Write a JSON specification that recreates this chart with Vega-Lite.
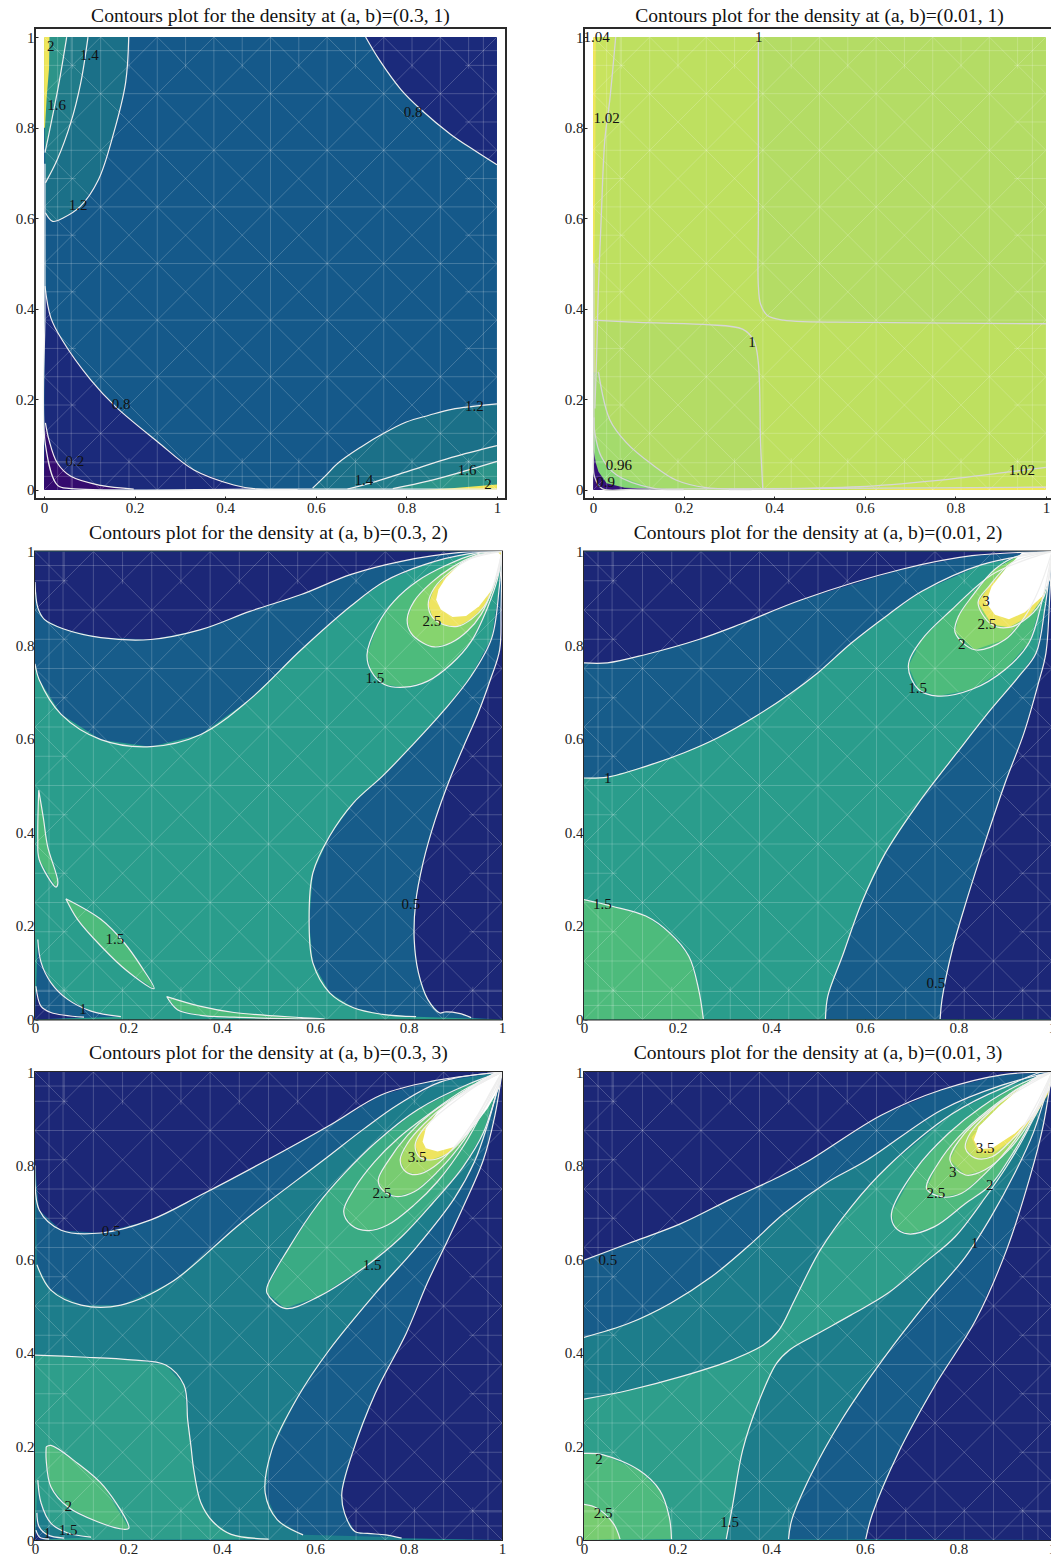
{"$schema":"https://vega.github.io/schema/vega-lite/v6.json","padding":{"left":14,"top":5,"right":0,"bottom":0},"bounds":"flush","columns":2,"align":"each","spacing":{"row":52.5,"column":78},"background":"white","resolve":{"scale":{"fill":"independent"}},
"config":{"view":{"stroke":"#2a2a2a","strokeWidth":2,"fill":"white"},"title":{"font":"Liberation Serif","fontSize":19.6,"fontWeight":"normal","color":"#111","offset":1},"axis":{"grid":false,"domain":false,"title":null,"labelFont":"Liberation Serif","labelFontSize":15,"labelColor":"#222","tickColor":"#222","tickSize":-3,"labelPadding":4,"format":"~g","labelFlush":false,"labelOverlap":false,"labelBound":false}},
"datasets":{
"mesh":[{"x":0.125,"y":0,"x2":0.125,"y2":1},{"x":0.25,"y":0,"x2":0.25,"y2":1},{"x":0.375,"y":0,"x2":0.375,"y2":1},{"x":0.5,"y":0,"x2":0.5,"y2":1},{"x":0.625,"y":0,"x2":0.625,"y2":1},{"x":0.75,"y":0,"x2":0.75,"y2":1},{"x":0.875,"y":0,"x2":0.875,"y2":1},{"x":0,"y":0.125,"x2":1,"y2":0.125},{"x":0,"y":0.25,"x2":1,"y2":0.25},{"x":0,"y":0.375,"x2":1,"y2":0.375},{"x":0,"y":0.5,"x2":1,"y2":0.5},{"x":0,"y":0.625,"x2":1,"y2":0.625},{"x":0,"y":0.75,"x2":1,"y2":0.75},{"x":0,"y":0.875,"x2":1,"y2":0.875},{"x":0,"y":0.25,"x2":0.25,"y2":0},{"x":0,"y":0.5,"x2":0.5,"y2":0},{"x":0,"y":0.75,"x2":0.75,"y2":0},{"x":0,"y":1,"x2":1,"y2":0},{"x":0.25,"y":1,"x2":1,"y2":0.25},{"x":0.5,"y":1,"x2":1,"y2":0.5},{"x":0.75,"y":1,"x2":1,"y2":0.75},{"x":0,"y":0.75,"x2":0.25,"y2":1},{"x":0,"y":0.5,"x2":0.5,"y2":1},{"x":0,"y":0.25,"x2":0.75,"y2":1},{"x":0,"y":0,"x2":1,"y2":1},{"x":0.25,"y":0,"x2":1,"y2":0.75},{"x":0.5,"y":0,"x2":1,"y2":0.5},{"x":0.75,"y":0,"x2":1,"y2":0.25},{"x":0.03,"y":0,"x2":0.03,"y2":1},{"x":0.06,"y":0,"x2":0.06,"y2":1},{"x":0,"y":0.03,"x2":1,"y2":0.03},{"x":0,"y":0.06,"x2":1,"y2":0.06},{"x":0.97,"y":0,"x2":0.97,"y2":1},{"x":0,"y":0.97,"x2":1,"y2":0.97},
{"x":0,"y":0.125,"x2":0.125,"y2":0},{"x":0,"y":0.375,"x2":0.375,"y2":0},{"x":0,"y":0.625,"x2":0.625,"y2":0},{"x":0,"y":0.875,"x2":0.875,"y2":0},{"x":0.125,"y":1,"x2":1,"y2":0.125},{"x":0.375,"y":1,"x2":1,"y2":0.375},{"x":0.625,"y":1,"x2":1,"y2":0.625},{"x":0.875,"y":1,"x2":1,"y2":0.875},{"x":0,"y":0.875,"x2":0.125,"y2":1},{"x":0,"y":0.625,"x2":0.375,"y2":1},{"x":0,"y":0.375,"x2":0.625,"y2":1},{"x":0,"y":0.125,"x2":0.875,"y2":1},{"x":0.125,"y":0,"x2":1,"y2":0.875},{"x":0.375,"y":0,"x2":1,"y2":0.625},{"x":0.625,"y":0,"x2":1,"y2":0.375},{"x":0.875,"y":0,"x2":1,"y2":0.125},
{"x":0,"y":0.0625,"x2":0.07,"y2":0.0625},{"x":0,"y":0.1875,"x2":0.07,"y2":0.1875},{"x":0,"y":0.3125,"x2":0.07,"y2":0.3125},{"x":0,"y":0.4375,"x2":0.07,"y2":0.4375},{"x":0,"y":0.5625,"x2":0.07,"y2":0.5625},{"x":0,"y":0.6875,"x2":0.07,"y2":0.6875},{"x":0,"y":0.8125,"x2":0.07,"y2":0.8125},{"x":0,"y":0.9375,"x2":0.07,"y2":0.9375},{"x":0.93,"y":0.0625,"x2":1,"y2":0.0625},{"x":0.93,"y":0.1875,"x2":1,"y2":0.1875},{"x":0.93,"y":0.3125,"x2":1,"y2":0.3125},{"x":0.93,"y":0.4375,"x2":1,"y2":0.4375},{"x":0.93,"y":0.5625,"x2":1,"y2":0.5625},{"x":0.93,"y":0.6875,"x2":1,"y2":0.6875},{"x":0.93,"y":0.8125,"x2":1,"y2":0.8125},{"x":0.93,"y":0.9375,"x2":1,"y2":0.9375},
{"x":0.0625,"y":0,"x2":0.0625,"y2":0.07},{"x":0.1875,"y":0,"x2":0.1875,"y2":0.07},{"x":0.3125,"y":0,"x2":0.3125,"y2":0.07},{"x":0.4375,"y":0,"x2":0.4375,"y2":0.07},{"x":0.5625,"y":0,"x2":0.5625,"y2":0.07},{"x":0.6875,"y":0,"x2":0.6875,"y2":0.07},{"x":0.8125,"y":0,"x2":0.8125,"y2":0.07},{"x":0.9375,"y":0,"x2":0.9375,"y2":0.07},{"x":0.0625,"y":0.93,"x2":0.0625,"y2":1},{"x":0.1875,"y":0.93,"x2":0.1875,"y2":1},{"x":0.3125,"y":0.93,"x2":0.3125,"y2":1},{"x":0.4375,"y":0.93,"x2":0.4375,"y2":1},{"x":0.5625,"y":0.93,"x2":0.5625,"y2":1},{"x":0.6875,"y":0.93,"x2":0.6875,"y2":1},{"x":0.8125,"y":0.93,"x2":0.8125,"y2":1},{"x":0.9375,"y":0.93,"x2":0.9375,"y2":1}],
"A":[
{"id":1,"lv":"m","x":0,"y":0,"edge":1},{"id":1,"lv":"m","x":1,"y":0,"edge":1},{"id":1,"lv":"m","x":1,"y":1,"edge":1},{"id":1,"lv":"m","x":0,"y":1,"edge":1},
{"id":2,"lv":"b","x":0.002,"y":0.45},{"id":2,"lv":"b","x":0.015,"y":0.38},{"id":2,"lv":"b","x":0.04,"y":0.331},{"id":2,"lv":"b","x":0.103,"y":0.243},{"id":2,"lv":"b","x":0.158,"y":0.184},{"id":2,"lv":"b","x":0.25,"y":0.107},{"id":2,"lv":"b","x":0.331,"y":0.044},{"id":2,"lv":"b","x":0.419,"y":0.011},{"id":2,"lv":"b","x":0.47,"y":0.002},{"id":2,"lv":"b","x":0.56,"y":0.001},{"id":2,"lv":"b","x":0,"y":0,"edge":1},
{"id":3,"lv":"a","x":0.003,"y":0.148},{"id":3,"lv":"a","x":0.011,"y":0.11},{"id":3,"lv":"a","x":0.029,"y":0.06},{"id":3,"lv":"a","x":0.059,"y":0.03},{"id":3,"lv":"a","x":0.125,"y":0.01},{"id":3,"lv":"a","x":0.198,"y":0.002},{"id":3,"lv":"a","x":0,"y":0,"edge":1},
{"id":4,"lv":"b","x":0.71,"y":1},{"id":4,"lv":"b","x":0.74,"y":0.95},{"id":4,"lv":"b","x":0.788,"y":0.884},{"id":4,"lv":"b","x":0.832,"y":0.84},{"id":4,"lv":"b","x":0.898,"y":0.785},{"id":4,"lv":"b","x":0.95,"y":0.75},{"id":4,"lv":"b","x":1,"y":0.718},{"id":4,"lv":"b","x":1,"y":1,"edge":1},
{"id":5,"lv":"t1","x":0.187,"y":1},{"id":5,"lv":"t1","x":0.18,"y":0.899},{"id":5,"lv":"t1","x":0.154,"y":0.789},{"id":5,"lv":"t1","x":0.12,"y":0.685},{"id":5,"lv":"t1","x":0.08,"y":0.626},{"id":5,"lv":"t1","x":0.043,"y":0.601},{"id":5,"lv":"t1","x":0.019,"y":0.593},{"id":5,"lv":"t1","x":0.003,"y":0.612},{"id":5,"lv":"t1","x":0,"y":1,"edge":1},
{"id":6,"lv":"t2","x":0.097,"y":1},{"id":6,"lv":"t2","x":0.081,"y":0.899},{"id":6,"lv":"t2","x":0.059,"y":0.811},{"id":6,"lv":"t2","x":0.029,"y":0.729},{"id":6,"lv":"t2","x":0.003,"y":0.678},{"id":6,"lv":"t2","x":0,"y":1,"edge":1},
{"id":7,"lv":"t3","x":0.05,"y":1},{"id":7,"lv":"t3","x":0.033,"y":0.899},{"id":7,"lv":"t3","x":0.014,"y":0.802},{"id":7,"lv":"t3","x":0.002,"y":0.745},{"id":7,"lv":"t3","x":0,"y":1,"edge":1},
{"id":8,"lv":"y","x":0.012,"y":1,"edge":1},{"id":8,"lv":"y","x":0.011,"y":0.93,"edge":1},{"id":8,"lv":"y","x":0.006,"y":0.87,"edge":1},{"id":8,"lv":"y","x":0.002,"y":0.8,"edge":1},{"id":8,"lv":"y","x":0,"y":0.8,"edge":1},{"id":8,"lv":"y","x":0,"y":1,"edge":1},
{"id":9,"lv":"t1","x":0.593,"y":0.004},{"id":9,"lv":"t1","x":0.62,"y":0.03},{"id":9,"lv":"t1","x":0.65,"y":0.06},{"id":9,"lv":"t1","x":0.7,"y":0.095},{"id":9,"lv":"t1","x":0.75,"y":0.125},{"id":9,"lv":"t1","x":0.8,"y":0.15},{"id":9,"lv":"t1","x":0.85,"y":0.165},{"id":9,"lv":"t1","x":0.9,"y":0.178},{"id":9,"lv":"t1","x":1,"y":0.19},{"id":9,"lv":"t1","x":1,"y":0,"edge":1},{"id":9,"lv":"t1","x":0.59,"y":0,"edge":1},
{"id":10,"lv":"t2","x":0.67,"y":0.002},{"id":10,"lv":"t2","x":0.72,"y":0.015},{"id":10,"lv":"t2","x":0.8,"y":0.04},{"id":10,"lv":"t2","x":0.9,"y":0.072},{"id":10,"lv":"t2","x":1,"y":0.098},{"id":10,"lv":"t2","x":1,"y":0,"edge":1},
{"id":11,"lv":"t3","x":0.77,"y":0.003},{"id":11,"lv":"t3","x":0.85,"y":0.02},{"id":11,"lv":"t3","x":0.93,"y":0.042},{"id":11,"lv":"t3","x":1,"y":0.063},{"id":11,"lv":"t3","x":1,"y":0,"edge":1},
{"id":12,"lv":"y","x":0.83,"y":0,"edge":1},{"id":12,"lv":"y","x":0.9,"y":0.004,"edge":1},{"id":12,"lv":"y","x":1,"y":0.012,"edge":1},{"id":12,"lv":"y","x":1,"y":0,"edge":1},
{"id":13,"lv":"n","x":0.002,"y":0.72},{"id":13,"lv":"n","x":0.002,"y":0.4},{"id":13,"lv":"n","x":0.003,"y":0.1},{"id":13,"lv":"n","x":0.03,"y":0.01},{"id":13,"lv":"n","x":0.06,"y":0.003},{"id":13,"lv":"n","x":0.5,"y":0.002},{"id":13,"lv":"n","x":1,"y":0.002}],
"Atext":[{"x":0.015,"y":0.98,"t":"2"},{"x":0.1,"y":0.96,"t":"1.4"},{"x":0.028,"y":0.85,"t":"1.6"},{"x":0.075,"y":0.63,"t":"1.2"},{"x":0.815,"y":0.835,"t":"0.8"},{"x":0.17,"y":0.19,"t":"0.8"},{"x":0.068,"y":0.065,"t":"0.2"},{"x":0.95,"y":0.185,"t":"1.2"},{"x":0.706,"y":0.022,"t":"1.4"},{"x":0.934,"y":0.044,"t":"1.6"},{"x":0.98,"y":0.013,"t":"2"}],
"B":[
{"id":1,"lv":"e","x":0,"y":0,"edge":1},{"id":1,"lv":"e","x":1,"y":0,"edge":1},{"id":1,"lv":"e","x":1,"y":1,"edge":1},{"id":1,"lv":"e","x":0,"y":1,"edge":1},
{"id":2,"lv":"d","x":0.365,"y":1},{"id":2,"lv":"d","x":0.365,"y":0.8},{"id":2,"lv":"d","x":0.365,"y":0.6},{"id":2,"lv":"d","x":0.365,"y":0.45},{"id":2,"lv":"d","x":0.37,"y":0.41},{"id":2,"lv":"d","x":0.385,"y":0.385},{"id":2,"lv":"d","x":0.42,"y":0.375},{"id":2,"lv":"d","x":0.6,"y":0.37},{"id":2,"lv":"d","x":1,"y":0.367},{"id":2,"lv":"d","x":1,"y":1,"edge":1},
{"id":3,"lv":"d","x":0,"y":0.375},{"id":3,"lv":"d","x":0.1,"y":0.37},{"id":3,"lv":"d","x":0.25,"y":0.365},{"id":3,"lv":"d","x":0.33,"y":0.355},{"id":3,"lv":"d","x":0.355,"y":0.33},{"id":3,"lv":"d","x":0.365,"y":0.28},{"id":3,"lv":"d","x":0.37,"y":0.1},{"id":3,"lv":"d","x":0.375,"y":0},{"id":3,"lv":"d","x":0,"y":0,"edge":1},
{"id":4,"lv":"f","x":0.05,"y":1},{"id":4,"lv":"f","x":0.037,"y":0.862},{"id":4,"lv":"f","x":0.026,"y":0.773},{"id":4,"lv":"f","x":0.018,"y":0.6},{"id":4,"lv":"f","x":0.012,"y":0.45},{"id":4,"lv":"f","x":0.008,"y":0.3},{"id":4,"lv":"f","x":0.004,"y":0.18},{"id":4,"lv":"f","x":0,"y":0.18,"edge":1},{"id":4,"lv":"f","x":0,"y":1,"edge":1},
{"id":5,"lv":"y","x":0.006,"y":1,"edge":1},{"id":5,"lv":"y","x":0.005,"y":0.7,"edge":1},{"id":5,"lv":"y","x":0.003,"y":0.5,"edge":1},{"id":5,"lv":"y","x":0,"y":0.5,"edge":1},{"id":5,"lv":"y","x":0,"y":1,"edge":1},
{"id":6,"lv":"f","x":0.3,"y":0.001},{"id":6,"lv":"f","x":0.589,"y":0.007},{"id":6,"lv":"f","x":0.75,"y":0.02},{"id":6,"lv":"f","x":0.92,"y":0.04},{"id":6,"lv":"f","x":1,"y":0.05},{"id":6,"lv":"f","x":1,"y":0,"edge":1},
{"id":7,"lv":"y","x":0.55,"y":0,"edge":1},{"id":7,"lv":"y","x":0.8,"y":0.004,"edge":1},{"id":7,"lv":"y","x":1,"y":0.008,"edge":1},{"id":7,"lv":"y","x":1,"y":0,"edge":1},
{"id":8,"lv":"c","x":0.012,"y":0.26},{"id":8,"lv":"c","x":0.037,"y":0.155},{"id":8,"lv":"c","x":0.074,"y":0.104},{"id":8,"lv":"c","x":0.132,"y":0.055},{"id":8,"lv":"c","x":0.183,"y":0.022},{"id":8,"lv":"c","x":0.25,"y":0.005},{"id":8,"lv":"c","x":0.35,"y":0.001},{"id":8,"lv":"c","x":0,"y":0,"edge":1},{"id":8,"lv":"c","x":0,"y":0.26,"edge":1},
{"id":9,"lv":"b","x":0.002,"y":0.16},{"id":9,"lv":"b","x":0.004,"y":0.126},{"id":9,"lv":"b","x":0.018,"y":0.074},{"id":9,"lv":"b","x":0.052,"y":0.033},{"id":9,"lv":"b","x":0.132,"y":0.004},{"id":9,"lv":"b","x":0.2,"y":0.001},{"id":9,"lv":"b","x":0,"y":0,"edge":1},
{"id":10,"lv":"a","x":0.001,"y":0.09,"edge":1},{"id":10,"lv":"a","x":0.006,"y":0.06,"edge":1},{"id":10,"lv":"a","x":0.012,"y":0.04,"edge":1},{"id":10,"lv":"a","x":0.03,"y":0.015,"edge":1},{"id":10,"lv":"a","x":0.07,"y":0.005,"edge":1},{"id":10,"lv":"a","x":0.2,"y":0.001,"edge":1},{"id":10,"lv":"a","x":0,"y":0,"edge":1},
{"id":11,"lv":"n","x":0.002,"y":0.5},{"id":11,"lv":"n","x":0.002,"y":0.1},{"id":11,"lv":"n","x":0.003,"y":0.03},{"id":11,"lv":"n","x":0.02,"y":0.003},{"id":11,"lv":"n","x":0.1,"y":0.002},{"id":11,"lv":"n","x":1,"y":0.006}],
"Btext":[{"x":0.008,"y":1,"t":"1.04"},{"x":0.366,"y":1,"t":"1"},{"x":0.03,"y":0.822,"t":"1.02"},{"x":0.351,"y":0.327,"t":"1"},{"x":0.057,"y":0.055,"t":"0.96"},{"x":0.028,"y":0.018,"t":"0.9"},{"x":0.947,"y":0.044,"t":"1.02"}],
"C":[
{"id":1,"lv":"t","x":0,"y":0,"edge":1},{"id":1,"lv":"t","x":1,"y":0,"edge":1},{"id":1,"lv":"t","x":1,"y":1,"edge":1},{"id":1,"lv":"t","x":0,"y":1,"edge":1},
{"id":2,"lv":"m","x":0,"y":0.76},{"id":2,"lv":"m","x":0.009,"y":0.726},{"id":2,"lv":"m","x":0.056,"y":0.652},{"id":2,"lv":"m","x":0.141,"y":0.598},{"id":2,"lv":"m","x":0.248,"y":0.583},{"id":2,"lv":"m","x":0.355,"y":0.609},{"id":2,"lv":"m","x":0.46,"y":0.684},{"id":2,"lv":"m","x":0.57,"y":0.79},{"id":2,"lv":"m","x":0.677,"y":0.884},{"id":2,"lv":"m","x":0.748,"y":0.936},{"id":2,"lv":"m","x":0.834,"y":0.972},{"id":2,"lv":"m","x":0.927,"y":0.995},{"id":2,"lv":"m","x":1,"y":1},{"id":2,"lv":"m","x":0,"y":1,"edge":1},
{"id":3,"lv":"b","x":0,"y":0.935},{"id":3,"lv":"b","x":0.006,"y":0.88},{"id":3,"lv":"b","x":0.02,"y":0.855},{"id":3,"lv":"b","x":0.06,"y":0.835},{"id":3,"lv":"b","x":0.141,"y":0.816},{"id":3,"lv":"b","x":0.248,"y":0.812},{"id":3,"lv":"b","x":0.355,"y":0.833},{"id":3,"lv":"b","x":0.46,"y":0.872},{"id":3,"lv":"b","x":0.57,"y":0.908},{"id":3,"lv":"b","x":0.677,"y":0.951},{"id":3,"lv":"b","x":0.784,"y":0.979},{"id":3,"lv":"b","x":0.912,"y":0.998},{"id":3,"lv":"b","x":1,"y":1},{"id":3,"lv":"b","x":0,"y":1,"edge":1},
{"id":4,"lv":"m","x":1,"y":1},{"id":4,"lv":"m","x":0.994,"y":0.922},{"id":4,"lv":"m","x":0.978,"y":0.815},{"id":4,"lv":"m","x":0.934,"y":0.734},{"id":4,"lv":"m","x":0.877,"y":0.662},{"id":4,"lv":"m","x":0.806,"y":0.584},{"id":4,"lv":"m","x":0.744,"y":0.52},{"id":4,"lv":"m","x":0.682,"y":0.463},{"id":4,"lv":"m","x":0.631,"y":0.392},{"id":4,"lv":"m","x":0.595,"y":0.313},{"id":4,"lv":"m","x":0.587,"y":0.207},{"id":4,"lv":"m","x":0.595,"y":0.121},{"id":4,"lv":"m","x":0.631,"y":0.057},{"id":4,"lv":"m","x":0.682,"y":0.025},{"id":4,"lv":"m","x":0.744,"y":0.011},{"id":4,"lv":"m","x":0.816,"y":0.006},{"id":4,"lv":"m","x":1,"y":0,"edge":1},
{"id":5,"lv":"b","x":1,"y":1},{"id":5,"lv":"b","x":0.998,"y":0.88},{"id":5,"lv":"b","x":0.995,"y":0.79},{"id":5,"lv":"b","x":0.975,"y":0.726},{"id":5,"lv":"b","x":0.949,"y":0.655},{"id":5,"lv":"b","x":0.918,"y":0.584},{"id":5,"lv":"b","x":0.888,"y":0.513},{"id":5,"lv":"b","x":0.857,"y":0.427},{"id":5,"lv":"b","x":0.831,"y":0.335},{"id":5,"lv":"b","x":0.815,"y":0.249},{"id":5,"lv":"b","x":0.812,"y":0.171},{"id":5,"lv":"b","x":0.821,"y":0.1},{"id":5,"lv":"b","x":0.841,"y":0.043},{"id":5,"lv":"b","x":0.867,"y":0.014},{"id":5,"lv":"b","x":0.877,"y":0.016},{"id":5,"lv":"b","x":0.908,"y":0.013},{"id":5,"lv":"b","x":0.934,"y":0.004},{"id":5,"lv":"b","x":1,"y":0,"edge":1},
{"id":6,"lv":"g","x":1,"y":1},{"id":6,"lv":"g","x":0.941,"y":0.994},{"id":6,"lv":"g","x":0.877,"y":0.969},{"id":6,"lv":"g","x":0.819,"y":0.937},{"id":6,"lv":"g","x":0.769,"y":0.894},{"id":6,"lv":"g","x":0.734,"y":0.844},{"id":6,"lv":"g","x":0.711,"y":0.78},{"id":6,"lv":"g","x":0.72,"y":0.744},{"id":6,"lv":"g","x":0.748,"y":0.716},{"id":6,"lv":"g","x":0.791,"y":0.71},{"id":6,"lv":"g","x":0.841,"y":0.723},{"id":6,"lv":"g","x":0.891,"y":0.759},{"id":6,"lv":"g","x":0.934,"y":0.808},{"id":6,"lv":"g","x":0.969,"y":0.88},{"id":6,"lv":"g","x":0.991,"y":0.944},{"id":6,"lv":"g","x":1,"y":1},
{"id":7,"lv":"l","x":1,"y":1},{"id":7,"lv":"l","x":0.941,"y":0.99},{"id":7,"lv":"l","x":0.891,"y":0.965},{"id":7,"lv":"l","x":0.848,"y":0.933},{"id":7,"lv":"l","x":0.812,"y":0.894},{"id":7,"lv":"l","x":0.797,"y":0.855},{"id":7,"lv":"l","x":0.805,"y":0.826},{"id":7,"lv":"l","x":0.83,"y":0.805},{"id":7,"lv":"l","x":0.855,"y":0.796},{"id":7,"lv":"l","x":0.891,"y":0.805},{"id":7,"lv":"l","x":0.926,"y":0.83},{"id":7,"lv":"l","x":0.955,"y":0.865},{"id":7,"lv":"l","x":0.98,"y":0.922},{"id":7,"lv":"l","x":1,"y":1},
{"id":8,"lv":"y","x":1,"y":1},{"id":8,"lv":"y","x":0.934,"y":0.985},{"id":8,"lv":"y","x":0.891,"y":0.958},{"id":8,"lv":"y","x":0.855,"y":0.922},{"id":8,"lv":"y","x":0.842,"y":0.887},{"id":8,"lv":"y","x":0.852,"y":0.858},{"id":8,"lv":"y","x":0.877,"y":0.843},{"id":8,"lv":"y","x":0.905,"y":0.84},{"id":8,"lv":"y","x":0.934,"y":0.855},{"id":8,"lv":"y","x":0.962,"y":0.883},{"id":8,"lv":"y","x":0.984,"y":0.93},{"id":8,"lv":"y","x":1,"y":1},
{"id":9,"lv":"w","x":0.859,"y":0.897,"edge":1},{"id":9,"lv":"w","x":0.869,"y":0.876,"edge":1},{"id":9,"lv":"w","x":0.894,"y":0.86,"edge":1},{"id":9,"lv":"w","x":0.923,"y":0.862,"edge":1},{"id":9,"lv":"w","x":0.951,"y":0.883,"edge":1},{"id":9,"lv":"w","x":0.976,"y":0.915,"edge":1},{"id":9,"lv":"w","x":0.994,"y":0.954,"edge":1},{"id":9,"lv":"w","x":1,"y":0.99,"edge":1},{"id":9,"lv":"w","x":0.991,"y":0.999,"edge":1},{"id":9,"lv":"w","x":0.948,"y":0.994,"edge":1},{"id":9,"lv":"w","x":0.912,"y":0.976,"edge":1},{"id":9,"lv":"w","x":0.88,"y":0.944,"edge":1},{"id":9,"lv":"w","x":0.864,"y":0.919,"edge":1},
{"id":10,"lv":"g","x":0.008,"y":0.49},{"id":10,"lv":"g","x":0.018,"y":0.43},{"id":10,"lv":"g","x":0.027,"y":0.37},{"id":10,"lv":"g","x":0.049,"y":0.293},{"id":10,"lv":"g","x":0.045,"y":0.283},{"id":10,"lv":"g","x":0.009,"y":0.342},{"id":10,"lv":"g","x":0.006,"y":0.385},{"id":10,"lv":"g","x":0.008,"y":0.49},
{"id":11,"lv":"g","x":0.066,"y":0.258},{"id":11,"lv":"g","x":0.141,"y":0.214},{"id":11,"lv":"g","x":0.191,"y":0.164},{"id":11,"lv":"g","x":0.227,"y":0.114},{"id":11,"lv":"g","x":0.255,"y":0.066},{"id":11,"lv":"g","x":0.198,"y":0.103},{"id":11,"lv":"g","x":0.141,"y":0.157},{"id":11,"lv":"g","x":0.091,"y":0.214},{"id":11,"lv":"g","x":0.066,"y":0.258},
{"id":12,"lv":"g","x":0.282,"y":0.049},{"id":12,"lv":"g","x":0.355,"y":0.028},{"id":12,"lv":"g","x":0.426,"y":0.015},{"id":12,"lv":"g","x":0.57,"y":0.004},{"id":12,"lv":"g","x":0.62,"y":0.001},{"id":12,"lv":"g","x":0.426,"y":0.005},{"id":12,"lv":"g","x":0.355,"y":0.009},{"id":12,"lv":"g","x":0.305,"y":0.021},{"id":12,"lv":"g","x":0.282,"y":0.049},
{"id":13,"lv":"m","x":0.006,"y":0.171},{"id":13,"lv":"m","x":0.013,"y":0.122},{"id":13,"lv":"m","x":0.034,"y":0.079},{"id":13,"lv":"m","x":0.07,"y":0.043},{"id":13,"lv":"m","x":0.12,"y":0.018},{"id":13,"lv":"m","x":0.184,"y":0.006},{"id":13,"lv":"m","x":0,"y":0,"edge":1},
{"id":14,"lv":"b","x":0.002,"y":0.071},{"id":14,"lv":"b","x":0.013,"y":0.028},{"id":14,"lv":"b","x":0.034,"y":0.015},{"id":14,"lv":"b","x":0.105,"y":0.005},{"id":14,"lv":"b","x":0,"y":0,"edge":1}],
"Ctext":[{"x":0.728,"y":0.729,"t":"1.5"},{"x":0.85,"y":0.852,"t":"2.5"},{"x":0.171,"y":0.171,"t":"1.5"},{"x":0.103,"y":0.022,"t":"1"},{"x":0.805,"y":0.246,"t":"0.5"}],
"D":[
{"id":1,"lv":"t","x":0,"y":0,"edge":1},{"id":1,"lv":"t","x":1,"y":0,"edge":1},{"id":1,"lv":"t","x":1,"y":1,"edge":1},{"id":1,"lv":"t","x":0,"y":1,"edge":1},
{"id":2,"lv":"m","x":0,"y":0.516},{"id":2,"lv":"m","x":0.05,"y":0.518},{"id":2,"lv":"m","x":0.132,"y":0.541},{"id":2,"lv":"m","x":0.214,"y":0.57},{"id":2,"lv":"m","x":0.286,"y":0.602},{"id":2,"lv":"m","x":0.367,"y":0.648},{"id":2,"lv":"m","x":0.439,"y":0.695},{"id":2,"lv":"m","x":0.5,"y":0.741},{"id":2,"lv":"m","x":0.572,"y":0.805},{"id":2,"lv":"m","x":0.65,"y":0.865},{"id":2,"lv":"m","x":0.722,"y":0.915},{"id":2,"lv":"m","x":0.85,"y":0.972},{"id":2,"lv":"m","x":1,"y":1},{"id":2,"lv":"m","x":0,"y":1,"edge":1},
{"id":3,"lv":"b","x":0,"y":0.762},{"id":3,"lv":"b","x":0.05,"y":0.762},{"id":3,"lv":"b","x":0.132,"y":0.78},{"id":3,"lv":"b","x":0.245,"y":0.812},{"id":3,"lv":"b","x":0.335,"y":0.845},{"id":3,"lv":"b","x":0.465,"y":0.897},{"id":3,"lv":"b","x":0.679,"y":0.962},{"id":3,"lv":"b","x":0.829,"y":0.991},{"id":3,"lv":"b","x":1,"y":1},{"id":3,"lv":"b","x":0,"y":1,"edge":1},
{"id":4,"lv":"m","x":0.516,"y":0.001},{"id":4,"lv":"m","x":0.521,"y":0.05},{"id":4,"lv":"m","x":0.552,"y":0.135},{"id":4,"lv":"m","x":0.593,"y":0.249},{"id":4,"lv":"m","x":0.644,"y":0.356},{"id":4,"lv":"m","x":0.715,"y":0.463},{"id":4,"lv":"m","x":0.797,"y":0.57},{"id":4,"lv":"m","x":0.869,"y":0.662},{"id":4,"lv":"m","x":0.93,"y":0.734},{"id":4,"lv":"m","x":0.966,"y":0.783},{"id":4,"lv":"m","x":0.985,"y":0.88},{"id":4,"lv":"m","x":1,"y":1},{"id":4,"lv":"m","x":1,"y":0,"edge":1},
{"id":5,"lv":"b","x":0.761,"y":0.001},{"id":5,"lv":"b","x":0.765,"y":0.043},{"id":5,"lv":"b","x":0.787,"y":0.149},{"id":5,"lv":"b","x":0.818,"y":0.256},{"id":5,"lv":"b","x":0.859,"y":0.385},{"id":5,"lv":"b","x":0.9,"y":0.506},{"id":5,"lv":"b","x":0.94,"y":0.612},{"id":5,"lv":"b","x":0.971,"y":0.719},{"id":5,"lv":"b","x":0.987,"y":0.783},{"id":5,"lv":"b","x":0.995,"y":0.9},{"id":5,"lv":"b","x":1,"y":1},{"id":5,"lv":"b","x":1,"y":0,"edge":1},
{"id":6,"lv":"g","x":0,"y":0.256},{"id":6,"lv":"g","x":0.06,"y":0.242},{"id":6,"lv":"g","x":0.132,"y":0.221},{"id":6,"lv":"g","x":0.183,"y":0.185},{"id":6,"lv":"g","x":0.224,"y":0.135},{"id":6,"lv":"g","x":0.245,"y":0.064},{"id":6,"lv":"g","x":0.255,"y":0.001},{"id":6,"lv":"g","x":0,"y":0,"edge":1},
{"id":7,"lv":"g","x":1,"y":1},{"id":7,"lv":"g","x":0.957,"y":0.987},{"id":7,"lv":"g","x":0.872,"y":0.951},{"id":7,"lv":"g","x":0.786,"y":0.876},{"id":7,"lv":"g","x":0.722,"y":0.812},{"id":7,"lv":"g","x":0.693,"y":0.755},{"id":7,"lv":"g","x":0.715,"y":0.705},{"id":7,"lv":"g","x":0.756,"y":0.691},{"id":7,"lv":"g","x":0.828,"y":0.705},{"id":7,"lv":"g","x":0.9,"y":0.748},{"id":7,"lv":"g","x":0.951,"y":0.805},{"id":7,"lv":"g","x":0.98,"y":0.9},{"id":7,"lv":"g","x":1,"y":1},
{"id":8,"lv":"l","x":1,"y":1},{"id":8,"lv":"l","x":0.929,"y":0.991},{"id":8,"lv":"l","x":0.878,"y":0.962},{"id":8,"lv":"l","x":0.829,"y":0.904},{"id":8,"lv":"l","x":0.8,"y":0.861},{"id":8,"lv":"l","x":0.793,"y":0.827},{"id":8,"lv":"l","x":0.835,"y":0.79},{"id":8,"lv":"l","x":0.9,"y":0.812},{"id":8,"lv":"l","x":0.942,"y":0.861},{"id":8,"lv":"l","x":0.972,"y":0.919},{"id":8,"lv":"l","x":1,"y":1},
{"id":9,"lv":"y","x":1,"y":1},{"id":9,"lv":"y","x":0.914,"y":0.976},{"id":9,"lv":"y","x":0.865,"y":0.925},{"id":9,"lv":"y","x":0.842,"y":0.891},{"id":9,"lv":"y","x":0.871,"y":0.844},{"id":9,"lv":"y","x":0.908,"y":0.838},{"id":9,"lv":"y","x":0.951,"y":0.861},{"id":9,"lv":"y","x":0.983,"y":0.904},{"id":9,"lv":"y","x":1,"y":1},
{"id":10,"lv":"w","x":0.859,"y":0.891,"edge":1},{"id":10,"lv":"w","x":0.878,"y":0.865,"edge":1},{"id":10,"lv":"w","x":0.908,"y":0.855,"edge":1},{"id":10,"lv":"w","x":0.942,"y":0.87,"edge":1},{"id":10,"lv":"w","x":0.979,"y":0.904,"edge":1},{"id":10,"lv":"w","x":0.996,"y":0.94,"edge":1},{"id":10,"lv":"w","x":1,"y":1,"edge":1},{"id":10,"lv":"w","x":0.936,"y":0.998,"edge":1},{"id":10,"lv":"w","x":0.9,"y":0.962,"edge":1},{"id":10,"lv":"w","x":0.871,"y":0.925,"edge":1}],
"Dtext":[{"x":0.859,"y":0.895,"t":"3"},{"x":0.861,"y":0.846,"t":"2.5"},{"x":0.807,"y":0.803,"t":"2"},{"x":0.713,"y":0.709,"t":"1.5"},{"x":0.051,"y":0.517,"t":"1"},{"x":0.039,"y":0.246,"t":"1.5"},{"x":0.752,"y":0.079,"t":"0.5"}],
"E":[
{"id":1,"lv":"t","x":0,"y":0,"edge":1},{"id":1,"lv":"t","x":1,"y":0,"edge":1},{"id":1,"lv":"t","x":1,"y":1,"edge":1},{"id":1,"lv":"t","x":0,"y":1,"edge":1},
{"id":2,"lv":"m","x":0.004,"y":0.588},{"id":2,"lv":"m","x":0.034,"y":0.534},{"id":2,"lv":"m","x":0.099,"y":0.502},{"id":2,"lv":"m","x":0.184,"y":0.502},{"id":2,"lv":"m","x":0.291,"y":0.55},{"id":2,"lv":"m","x":0.441,"y":0.677},{"id":2,"lv":"m","x":0.618,"y":0.812},{"id":2,"lv":"m","x":0.705,"y":0.879},{"id":2,"lv":"m","x":0.777,"y":0.93},{"id":2,"lv":"m","x":0.869,"y":0.979},{"id":2,"lv":"m","x":1,"y":1},{"id":2,"lv":"m","x":0,"y":1,"edge":1},
{"id":3,"lv":"b","x":0,"y":0.8},{"id":3,"lv":"b","x":0.009,"y":0.705},{"id":3,"lv":"b","x":0.056,"y":0.662},{"id":3,"lv":"b","x":0.141,"y":0.656},{"id":3,"lv":"b","x":0.248,"y":0.684},{"id":3,"lv":"b","x":0.355,"y":0.737},{"id":3,"lv":"b","x":0.484,"y":0.805},{"id":3,"lv":"b","x":0.634,"y":0.888},{"id":3,"lv":"b","x":0.741,"y":0.951},{"id":3,"lv":"b","x":0.848,"y":0.98},{"id":3,"lv":"b","x":1,"y":1},{"id":3,"lv":"b","x":0,"y":1,"edge":1},
{"id":4,"lv":"m","x":1,"y":1},{"id":4,"lv":"m","x":0.969,"y":0.887},{"id":4,"lv":"m","x":0.941,"y":0.808},{"id":4,"lv":"m","x":0.898,"y":0.73},{"id":4,"lv":"m","x":0.818,"y":0.627},{"id":4,"lv":"m","x":0.729,"y":0.527},{"id":4,"lv":"m","x":0.63,"y":0.406},{"id":4,"lv":"m","x":0.563,"y":0.306},{"id":4,"lv":"m","x":0.507,"y":0.192},{"id":4,"lv":"m","x":0.493,"y":0.1},{"id":4,"lv":"m","x":0.519,"y":0.043},{"id":4,"lv":"m","x":0.574,"y":0.011},{"id":4,"lv":"m","x":1,"y":0,"edge":1},
{"id":5,"lv":"b","x":1,"y":1},{"id":5,"lv":"b","x":0.985,"y":0.908},{"id":5,"lv":"b","x":0.96,"y":0.812},{"id":5,"lv":"b","x":0.917,"y":0.712},{"id":5,"lv":"b","x":0.884,"y":0.641},{"id":5,"lv":"b","x":0.84,"y":0.549},{"id":5,"lv":"b","x":0.795,"y":0.442},{"id":5,"lv":"b","x":0.729,"y":0.314},{"id":5,"lv":"b","x":0.679,"y":0.184},{"id":5,"lv":"b","x":0.657,"y":0.1},{"id":5,"lv":"b","x":0.663,"y":0.057},{"id":5,"lv":"b","x":0.685,"y":0.018},{"id":5,"lv":"b","x":0.712,"y":0.014},{"id":5,"lv":"b","x":0.751,"y":0.011},{"id":5,"lv":"b","x":0.785,"y":0.004},{"id":5,"lv":"b","x":1,"y":0,"edge":1},
{"id":6,"lv":"q","x":0,"y":0.395},{"id":6,"lv":"q","x":0.099,"y":0.391},{"id":6,"lv":"q","x":0.206,"y":0.385},{"id":6,"lv":"q","x":0.28,"y":0.374},{"id":6,"lv":"q","x":0.319,"y":0.331},{"id":6,"lv":"q","x":0.327,"y":0.256},{"id":6,"lv":"q","x":0.334,"y":0.2},{"id":6,"lv":"q","x":0.34,"y":0.15},{"id":6,"lv":"q","x":0.355,"y":0.08},{"id":6,"lv":"q","x":0.38,"y":0.04},{"id":6,"lv":"q","x":0.42,"y":0.012},{"id":6,"lv":"q","x":0.5,"y":0.002},{"id":6,"lv":"q","x":0,"y":0,"edge":1},
{"id":7,"lv":"t","x":0.006,"y":0.128},{"id":7,"lv":"t","x":0.013,"y":0.079},{"id":7,"lv":"t","x":0.034,"y":0.036},{"id":7,"lv":"t","x":0.07,"y":0.015},{"id":7,"lv":"t","x":0.12,"y":0.006},{"id":7,"lv":"t","x":0,"y":0,"edge":1},
{"id":8,"lv":"m","x":0.004,"y":0.058},{"id":8,"lv":"m","x":0.009,"y":0.028},{"id":8,"lv":"m","x":0.027,"y":0.011},{"id":8,"lv":"m","x":0.062,"y":0.004},{"id":8,"lv":"m","x":0,"y":0,"edge":1},
{"id":9,"lv":"b","x":0.002,"y":0.021},{"id":9,"lv":"b","x":0.01,"y":0.006},{"id":9,"lv":"b","x":0.03,"y":0.002},{"id":9,"lv":"b","x":0,"y":0,"edge":1},
{"id":10,"lv":"g","x":0.024,"y":0.199},{"id":10,"lv":"g","x":0.034,"y":0.202},{"id":10,"lv":"g","x":0.091,"y":0.164},{"id":10,"lv":"g","x":0.148,"y":0.114},{"id":10,"lv":"g","x":0.201,"y":0.025},{"id":10,"lv":"g","x":0.19,"y":0.023},{"id":10,"lv":"g","x":0.134,"y":0.039},{"id":10,"lv":"g","x":0.07,"y":0.071},{"id":10,"lv":"g","x":0.034,"y":0.114},{"id":10,"lv":"g","x":0.024,"y":0.171},{"id":10,"lv":"g","x":0.024,"y":0.199},
{"id":11,"lv":"r","x":1,"y":1},{"id":11,"lv":"r","x":0.93,"y":0.975},{"id":11,"lv":"r","x":0.82,"y":0.92},{"id":11,"lv":"r","x":0.73,"y":0.85},{"id":11,"lv":"r","x":0.663,"y":0.784},{"id":11,"lv":"r","x":0.607,"y":0.719},{"id":11,"lv":"r","x":0.541,"y":0.62},{"id":11,"lv":"r","x":0.497,"y":0.541},{"id":11,"lv":"r","x":0.497,"y":0.527},{"id":11,"lv":"r","x":0.535,"y":0.495},{"id":11,"lv":"r","x":0.607,"y":0.52},{"id":11,"lv":"r","x":0.707,"y":0.584},{"id":11,"lv":"r","x":0.785,"y":0.648},{"id":11,"lv":"r","x":0.851,"y":0.719},{"id":11,"lv":"r","x":0.917,"y":0.798},{"id":11,"lv":"r","x":0.96,"y":0.87},{"id":11,"lv":"r","x":1,"y":1},
{"id":12,"lv":"g","x":1,"y":1},{"id":12,"lv":"g","x":0.919,"y":0.962},{"id":12,"lv":"g","x":0.841,"y":0.908},{"id":12,"lv":"g","x":0.777,"y":0.858},{"id":12,"lv":"g","x":0.727,"y":0.808},{"id":12,"lv":"g","x":0.684,"y":0.751},{"id":12,"lv":"g","x":0.661,"y":0.702},{"id":12,"lv":"g","x":0.677,"y":0.673},{"id":12,"lv":"g","x":0.712,"y":0.661},{"id":12,"lv":"g","x":0.755,"y":0.673},{"id":12,"lv":"g","x":0.812,"y":0.716},{"id":12,"lv":"g","x":0.862,"y":0.766},{"id":12,"lv":"g","x":0.919,"y":0.844},{"id":12,"lv":"g","x":0.962,"y":0.922},{"id":12,"lv":"g","x":1,"y":1},
{"id":13,"lv":"l","x":1,"y":1},{"id":13,"lv":"l","x":0.919,"y":0.958},{"id":13,"lv":"l","x":0.848,"y":0.912},{"id":13,"lv":"l","x":0.798,"y":0.865},{"id":13,"lv":"l","x":0.755,"y":0.808},{"id":13,"lv":"l","x":0.735,"y":0.769},{"id":13,"lv":"l","x":0.744,"y":0.748},{"id":13,"lv":"l","x":0.773,"y":0.734},{"id":13,"lv":"l","x":0.812,"y":0.744},{"id":13,"lv":"l","x":0.862,"y":0.787},{"id":13,"lv":"l","x":0.919,"y":0.855},{"id":13,"lv":"l","x":0.962,"y":0.93},{"id":13,"lv":"l","x":1,"y":1},
{"id":14,"lv":"k","x":1,"y":1},{"id":14,"lv":"k","x":0.941,"y":0.969},{"id":14,"lv":"k","x":0.884,"y":0.933},{"id":14,"lv":"k","x":0.834,"y":0.89},{"id":14,"lv":"k","x":0.798,"y":0.848},{"id":14,"lv":"k","x":0.782,"y":0.812},{"id":14,"lv":"k","x":0.794,"y":0.787},{"id":14,"lv":"k","x":0.819,"y":0.781},{"id":14,"lv":"k","x":0.855,"y":0.798},{"id":14,"lv":"k","x":0.905,"y":0.848},{"id":14,"lv":"k","x":0.948,"y":0.908},{"id":14,"lv":"k","x":0.976,"y":0.958},{"id":14,"lv":"k","x":1,"y":1},
{"id":15,"lv":"y","x":1,"y":1},{"id":15,"lv":"y","x":0.948,"y":0.972},{"id":15,"lv":"y","x":0.912,"y":0.947},{"id":15,"lv":"y","x":0.862,"y":0.908},{"id":15,"lv":"y","x":0.827,"y":0.872},{"id":15,"lv":"y","x":0.814,"y":0.844},{"id":15,"lv":"y","x":0.823,"y":0.819},{"id":15,"lv":"y","x":0.848,"y":0.812},{"id":15,"lv":"y","x":0.884,"y":0.826},{"id":15,"lv":"y","x":0.926,"y":0.869},{"id":15,"lv":"y","x":0.962,"y":0.922},{"id":15,"lv":"y","x":0.984,"y":0.958},{"id":15,"lv":"y","x":1,"y":1},
{"id":16,"lv":"w","x":0.83,"y":0.851,"edge":1},{"id":16,"lv":"w","x":0.837,"y":0.837,"edge":1},{"id":16,"lv":"w","x":0.862,"y":0.83,"edge":1},{"id":16,"lv":"w","x":0.898,"y":0.84,"edge":1},{"id":16,"lv":"w","x":0.934,"y":0.876,"edge":1},{"id":16,"lv":"w","x":0.969,"y":0.922,"edge":1},{"id":16,"lv":"w","x":0.994,"y":0.965,"edge":1},{"id":16,"lv":"w","x":1,"y":0.994,"edge":1},{"id":16,"lv":"w","x":0.984,"y":0.999,"edge":1},{"id":16,"lv":"w","x":0.948,"y":0.979,"edge":1},{"id":16,"lv":"w","x":0.905,"y":0.951,"edge":1},{"id":16,"lv":"w","x":0.862,"y":0.915,"edge":1},{"id":16,"lv":"w","x":0.837,"y":0.88,"edge":1}],
"Etext":[{"x":0.163,"y":0.66,"t":"0.5"},{"x":0.722,"y":0.588,"t":"1.5"},{"x":0.743,"y":0.741,"t":"2.5"},{"x":0.818,"y":0.818,"t":"3.5"},{"x":0.071,"y":0.073,"t":"2"},{"x":0.071,"y":0.021,"t":"1.5"},{"x":0.026,"y":0.015,"t":"1"}],
"F":[
{"id":1,"lv":"t","x":0,"y":0,"edge":1},{"id":1,"lv":"t","x":1,"y":0,"edge":1},{"id":1,"lv":"t","x":1,"y":1,"edge":1},{"id":1,"lv":"t","x":0,"y":1,"edge":1},
{"id":2,"lv":"m","x":0,"y":0.433},{"id":2,"lv":"m","x":0.096,"y":0.463},{"id":2,"lv":"m","x":0.185,"y":0.506},{"id":2,"lv":"m","x":0.273,"y":0.563},{"id":2,"lv":"m","x":0.35,"y":0.627},{"id":2,"lv":"m","x":0.428,"y":0.698},{"id":2,"lv":"m","x":0.516,"y":0.762},{"id":2,"lv":"m","x":0.605,"y":0.812},{"id":2,"lv":"m","x":0.764,"y":0.919},{"id":2,"lv":"m","x":0.893,"y":0.972},{"id":2,"lv":"m","x":1,"y":1},{"id":2,"lv":"m","x":0,"y":1,"edge":1},
{"id":3,"lv":"b","x":0,"y":0.598},{"id":3,"lv":"b","x":0.096,"y":0.634},{"id":3,"lv":"b","x":0.207,"y":0.676},{"id":3,"lv":"b","x":0.317,"y":0.73},{"id":3,"lv":"b","x":0.417,"y":0.776},{"id":3,"lv":"b","x":0.483,"y":0.812},{"id":3,"lv":"b","x":0.636,"y":0.908},{"id":3,"lv":"b","x":0.764,"y":0.962},{"id":3,"lv":"b","x":0.893,"y":0.994},{"id":3,"lv":"b","x":1,"y":1},{"id":3,"lv":"b","x":0,"y":1,"edge":1},
{"id":4,"lv":"m","x":0.437,"y":0.002},{"id":4,"lv":"m","x":0.444,"y":0.043},{"id":4,"lv":"m","x":0.483,"y":0.135},{"id":4,"lv":"m","x":0.55,"y":0.256},{"id":4,"lv":"m","x":0.638,"y":0.385},{"id":4,"lv":"m","x":0.737,"y":0.513},{"id":4,"lv":"m","x":0.815,"y":0.605},{"id":4,"lv":"m","x":0.87,"y":0.691},{"id":4,"lv":"m","x":0.92,"y":0.783},{"id":4,"lv":"m","x":0.96,"y":0.87},{"id":4,"lv":"m","x":1,"y":1},{"id":4,"lv":"m","x":1,"y":0,"edge":1},
{"id":5,"lv":"b","x":0.602,"y":0.002},{"id":5,"lv":"b","x":0.616,"y":0.055},{"id":5,"lv":"b","x":0.671,"y":0.185},{"id":5,"lv":"b","x":0.748,"y":0.327},{"id":5,"lv":"b","x":0.837,"y":0.47},{"id":5,"lv":"b","x":0.903,"y":0.62},{"id":5,"lv":"b","x":0.953,"y":0.776},{"id":5,"lv":"b","x":0.98,"y":0.88},{"id":5,"lv":"b","x":1,"y":1},{"id":5,"lv":"b","x":1,"y":0,"edge":1},
{"id":6,"lv":"q","x":0,"y":0.301},{"id":6,"lv":"q","x":0.096,"y":0.32},{"id":6,"lv":"q","x":0.207,"y":0.349},{"id":6,"lv":"q","x":0.317,"y":0.385},{"id":6,"lv":"q","x":0.384,"y":0.417},{"id":6,"lv":"q","x":0.417,"y":0.449},{"id":6,"lv":"q","x":0.45,"y":0.513},{"id":6,"lv":"q","x":0.505,"y":0.62},{"id":6,"lv":"q","x":0.571,"y":0.712},{"id":6,"lv":"q","x":0.649,"y":0.798},{"id":6,"lv":"q","x":0.786,"y":0.91},{"id":6,"lv":"q","x":0.893,"y":0.965},{"id":6,"lv":"q","x":1,"y":1},{"id":6,"lv":"q","x":0.95,"y":0.88},{"id":6,"lv":"q","x":0.903,"y":0.798},{"id":6,"lv":"q","x":0.859,"y":0.734},{"id":6,"lv":"q","x":0.793,"y":0.648},{"id":6,"lv":"q","x":0.726,"y":0.591},{"id":6,"lv":"q","x":0.649,"y":0.527},{"id":6,"lv":"q","x":0.571,"y":0.481},{"id":6,"lv":"q","x":0.494,"y":0.438},{"id":6,"lv":"q","x":0.439,"y":0.406},{"id":6,"lv":"q","x":0.411,"y":0.377},{"id":6,"lv":"q","x":0.372,"y":0.292},{"id":6,"lv":"q","x":0.339,"y":0.192},{"id":6,"lv":"q","x":0.317,"y":0.071},{"id":6,"lv":"q","x":0.304,"y":0.002},{"id":6,"lv":"q","x":0,"y":0,"edge":1},
{"id":7,"lv":"r","x":0,"y":0.185},{"id":7,"lv":"r","x":0.041,"y":0.182},{"id":7,"lv":"r","x":0.118,"y":0.149},{"id":7,"lv":"r","x":0.162,"y":0.106},{"id":7,"lv":"r","x":0.182,"y":0.05},{"id":7,"lv":"r","x":0.187,"y":0.002},{"id":7,"lv":"r","x":0,"y":0,"edge":1},
{"id":8,"lv":"g","x":0,"y":0.076},{"id":8,"lv":"g","x":0.028,"y":0.068},{"id":8,"lv":"g","x":0.063,"y":0.035},{"id":8,"lv":"g","x":0.077,"y":0.002},{"id":8,"lv":"g","x":0,"y":0,"edge":1},
{"id":9,"lv":"r","x":1,"y":1},{"id":9,"lv":"r","x":0.936,"y":0.976},{"id":9,"lv":"r","x":0.85,"y":0.926},{"id":9,"lv":"r","x":0.779,"y":0.869},{"id":9,"lv":"r","x":0.707,"y":0.79},{"id":9,"lv":"r","x":0.657,"y":0.698},{"id":9,"lv":"r","x":0.665,"y":0.668},{"id":9,"lv":"r","x":0.693,"y":0.654},{"id":9,"lv":"r","x":0.748,"y":0.669},{"id":9,"lv":"r","x":0.815,"y":0.719},{"id":9,"lv":"r","x":0.868,"y":0.758},{"id":9,"lv":"r","x":0.907,"y":0.812},{"id":9,"lv":"r","x":0.957,"y":0.897},{"id":9,"lv":"r","x":0.986,"y":0.961},{"id":9,"lv":"r","x":1,"y":1},
{"id":10,"lv":"g","x":1,"y":1},{"id":10,"lv":"g","x":0.936,"y":0.969},{"id":10,"lv":"g","x":0.864,"y":0.919},{"id":10,"lv":"g","x":0.8,"y":0.861},{"id":10,"lv":"g","x":0.757,"y":0.805},{"id":10,"lv":"g","x":0.732,"y":0.751},{"id":10,"lv":"g","x":0.765,"y":0.733},{"id":10,"lv":"g","x":0.807,"y":0.741},{"id":10,"lv":"g","x":0.857,"y":0.783},{"id":10,"lv":"g","x":0.921,"y":0.855},{"id":10,"lv":"g","x":0.964,"y":0.926},{"id":10,"lv":"g","x":1,"y":1},
{"id":11,"lv":"l","x":1,"y":1},{"id":11,"lv":"l","x":0.907,"y":0.947},{"id":11,"lv":"l","x":0.85,"y":0.904},{"id":11,"lv":"l","x":0.807,"y":0.861},{"id":11,"lv":"l","x":0.782,"y":0.812},{"id":11,"lv":"l","x":0.815,"y":0.78},{"id":11,"lv":"l","x":0.857,"y":0.791},{"id":11,"lv":"l","x":0.907,"y":0.833},{"id":11,"lv":"l","x":0.95,"y":0.89},{"id":11,"lv":"l","x":0.979,"y":0.947},{"id":11,"lv":"l","x":1,"y":1},
{"id":12,"lv":"k","x":1,"y":1},{"id":12,"lv":"k","x":0.921,"y":0.961},{"id":12,"lv":"k","x":0.872,"y":0.919},{"id":12,"lv":"k","x":0.825,"y":0.869},{"id":12,"lv":"k","x":0.815,"y":0.837},{"id":12,"lv":"k","x":0.836,"y":0.816},{"id":12,"lv":"k","x":0.872,"y":0.819},{"id":12,"lv":"k","x":0.914,"y":0.855},{"id":12,"lv":"k","x":0.95,"y":0.897},{"id":12,"lv":"k","x":0.979,"y":0.94},{"id":12,"lv":"k","x":1,"y":1},
{"id":13,"lv":"y","x":0.828,"y":0.86,"edge":1},{"id":13,"lv":"y","x":0.843,"y":0.827,"edge":1},{"id":13,"lv":"y","x":0.872,"y":0.825,"edge":1},{"id":13,"lv":"y","x":0.921,"y":0.86,"edge":1},{"id":13,"lv":"y","x":0.964,"y":0.905,"edge":1},{"id":13,"lv":"y","x":0.993,"y":0.955,"edge":1},{"id":13,"lv":"y","x":1,"y":1,"edge":1},{"id":13,"lv":"y","x":0.936,"y":0.969,"edge":1},{"id":13,"lv":"y","x":0.886,"y":0.926,"edge":1},
{"id":14,"lv":"w","x":0.833,"y":0.855,"edge":1},{"id":14,"lv":"w","x":0.843,"y":0.835,"edge":1},{"id":14,"lv":"w","x":0.872,"y":0.837,"edge":1},{"id":14,"lv":"w","x":0.921,"y":0.869,"edge":1},{"id":14,"lv":"w","x":0.964,"y":0.911,"edge":1},{"id":14,"lv":"w","x":0.993,"y":0.961,"edge":1},{"id":14,"lv":"w","x":1,"y":1,"edge":1},{"id":14,"lv":"w","x":0.971,"y":0.994,"edge":1},{"id":14,"lv":"w","x":0.936,"y":0.969,"edge":1},{"id":14,"lv":"w","x":0.886,"y":0.926,"edge":1},{"id":14,"lv":"w","x":0.843,"y":0.883,"edge":1}],
"Ftext":[{"x":0.051,"y":0.598,"t":"0.5"},{"x":0.857,"y":0.838,"t":"3.5"},{"x":0.788,"y":0.786,"t":"3"},{"x":0.752,"y":0.741,"t":"2.5"},{"x":0.867,"y":0.759,"t":"2"},{"x":0.835,"y":0.635,"t":"1"},{"x":0.032,"y":0.173,"t":"2"},{"x":0.041,"y":0.058,"t":"2.5"},{"x":0.311,"y":0.038,"t":"1.5"}]
},
"concat":[
{"width":471,"height":471,"title":"Contours plot for the density at (a, b)=(0.3, 1)","encoding":{"x":{"field":"x","type":"quantitative","axis":{"values":[0,0.2,0.4,0.6,0.8,1]},"scale":{"domain":[-0.02,1.02],"nice":false,"zero":false}},"y":{"field":"y","type":"quantitative","axis":{"values":[0,0.2,0.4,0.6,0.8,1]},"scale":{"domain":[-0.02,1.02],"nice":false,"zero":false}}},"layer":[
{"data":{"name":"A"},"mark":{"type":"line","strokeWidth":0,"clip":true},"encoding":{"fill":{"field":"lv","type":"nominal","legend":null,"scale":{"domain":["a","b","m","t1","t2","t3","y","n"],"range":["#340b6e","#1b2a7b","#15598a","#1b7088","#207b89","#2d9489","#f0e65a","transparent"]}},"detail":{"field":"id"},"order":{"value":null}}},
{"data":{"name":"mesh"},"mark":{"type":"rule","color":"white","opacity":0.25,"strokeWidth":0.8,"clip":true},"encoding":{"x2":{"field":"x2"},"y2":{"field":"y2"}}},
{"data":{"name":"A"},"transform":[{"filter":"datum.edge !== 1"}],"mark":{"type":"line","stroke":"#eeeeee","strokeWidth":1.2,"interpolate":"catmull-rom","clip":true},"encoding":{"detail":{"field":"id"},"order":{"value":null}}},
{"data":{"name":"Atext"},"mark":{"type":"text","font":"Liberation Serif","fontSize":15,"color":"#111"},"encoding":{"text":{"field":"t"}}}]},
{"width":471,"height":471,"title":"Contours plot for the density at (a, b)=(0.01, 1)","encoding":{"x":{"field":"x","type":"quantitative","axis":{"values":[0,0.2,0.4,0.6,0.8,1]},"scale":{"domain":[-0.02,1.02],"nice":false,"zero":false}},"y":{"field":"y","type":"quantitative","axis":{"values":[0,0.2,0.4,0.6,0.8,1]},"scale":{"domain":[-0.02,1.02],"nice":false,"zero":false}}},"layer":[
{"data":{"name":"B"},"mark":{"type":"line","strokeWidth":0,"clip":true},"encoding":{"fill":{"field":"lv","type":"nominal","legend":null,"scale":{"domain":["a","b","c","d","e","f","y","n"],"range":["#35107a","#84d574","#a4db6c","#b4dc65","#bee060","#c8e35e","#f0e65a","transparent"]}},"detail":{"field":"id"},"order":{"value":null}}},
{"data":{"name":"mesh"},"mark":{"type":"rule","color":"white","opacity":0.25,"strokeWidth":0.8,"clip":true},"encoding":{"x2":{"field":"x2"},"y2":{"field":"y2"}}},
{"data":{"name":"B"},"transform":[{"filter":"datum.edge !== 1"}],"mark":{"type":"line","stroke":"#d6d6d6","strokeWidth":1.3,"interpolate":"catmull-rom","clip":true},"encoding":{"detail":{"field":"id"},"order":{"value":null}}},
{"data":{"name":"Btext"},"mark":{"type":"text","font":"Liberation Serif","fontSize":15,"color":"#111"},"encoding":{"text":{"field":"t"}}}]},
{"width":467,"height":468,"title":"Contours plot for the density at (a, b)=(0.3, 2)","encoding":{"x":{"field":"x","type":"quantitative","axis":{"values":[0,0.2,0.4,0.6,0.8,1]},"scale":{"domain":[0,1],"nice":false,"zero":false}},"y":{"field":"y","type":"quantitative","axis":{"values":[0,0.2,0.4,0.6,0.8,1]},"scale":{"domain":[0,1],"nice":false,"zero":false}}},"layer":[
{"data":{"name":"C"},"mark":{"type":"line","strokeWidth":0,"clip":true},"encoding":{"fill":{"field":"lv","type":"nominal","legend":null,"scale":{"domain":["b","m","t","g","l","y","w"],"range":["#1c2777","#175c8a","#2a9d8c","#4dbb7c","#86d46e","#eee45f","#ffffff"]}},"detail":{"field":"id"},"order":{"value":null}}},
{"data":{"name":"mesh"},"mark":{"type":"rule","color":"white","opacity":0.25,"strokeWidth":0.8,"clip":true},"encoding":{"x2":{"field":"x2"},"y2":{"field":"y2"}}},
{"data":{"name":"C"},"transform":[{"filter":"datum.edge !== 1"}],"mark":{"type":"line","stroke":"#eeeeee","strokeWidth":1.2,"interpolate":"catmull-rom","clip":true},"encoding":{"detail":{"field":"id"},"order":{"value":null}}},
{"data":{"name":"Ctext"},"mark":{"type":"text","font":"Liberation Serif","fontSize":15,"color":"#111"},"encoding":{"text":{"field":"t"}}}]},
{"width":468,"height":468,"title":"Contours plot for the density at (a, b)=(0.01, 2)","encoding":{"x":{"field":"x","type":"quantitative","axis":{"values":[0,0.2,0.4,0.6,0.8,1]},"scale":{"domain":[0,1],"nice":false,"zero":false}},"y":{"field":"y","type":"quantitative","axis":{"values":[0,0.2,0.4,0.6,0.8,1]},"scale":{"domain":[0,1],"nice":false,"zero":false}}},"layer":[
{"data":{"name":"D"},"mark":{"type":"line","strokeWidth":0,"clip":true},"encoding":{"fill":{"field":"lv","type":"nominal","legend":null,"scale":{"domain":["b","m","t","g","l","y","w"],"range":["#1c2777","#175c8a","#2a9d8c","#4dbb7c","#86d46e","#eee45f","#ffffff"]}},"detail":{"field":"id"},"order":{"value":null}}},
{"data":{"name":"mesh"},"mark":{"type":"rule","color":"white","opacity":0.25,"strokeWidth":0.8,"clip":true},"encoding":{"x2":{"field":"x2"},"y2":{"field":"y2"}}},
{"data":{"name":"D"},"transform":[{"filter":"datum.edge !== 1"}],"mark":{"type":"line","stroke":"#eeeeee","strokeWidth":1.2,"interpolate":"catmull-rom","clip":true},"encoding":{"detail":{"field":"id"},"order":{"value":null}}},
{"data":{"name":"Dtext"},"mark":{"type":"text","font":"Liberation Serif","fontSize":15,"color":"#111"},"encoding":{"text":{"field":"t"}}}]},
{"width":467,"height":468,"title":"Contours plot for the density at (a, b)=(0.3, 3)","encoding":{"x":{"field":"x","type":"quantitative","axis":{"values":[0,0.2,0.4,0.6,0.8,1]},"scale":{"domain":[0,1],"nice":false,"zero":false}},"y":{"field":"y","type":"quantitative","axis":{"values":[0,0.2,0.4,0.6,0.8,1]},"scale":{"domain":[0,1],"nice":false,"zero":false}}},"layer":[
{"data":{"name":"E"},"mark":{"type":"line","strokeWidth":0,"clip":true},"encoding":{"fill":{"field":"lv","type":"nominal","legend":null,"scale":{"domain":["b","m","t","q","r","g","l","k","y","w"],"range":["#1c2777","#175c8a","#1d7d8b","#2e9e8b","#3aab84","#4fba7e","#78cc71","#a8da66","#eee45f","#ffffff"]}},"detail":{"field":"id"},"order":{"value":null}}},
{"data":{"name":"mesh"},"mark":{"type":"rule","color":"white","opacity":0.25,"strokeWidth":0.8,"clip":true},"encoding":{"x2":{"field":"x2"},"y2":{"field":"y2"}}},
{"data":{"name":"E"},"transform":[{"filter":"datum.edge !== 1"}],"mark":{"type":"line","stroke":"#eeeeee","strokeWidth":1.2,"interpolate":"catmull-rom","clip":true},"encoding":{"detail":{"field":"id"},"order":{"value":null}}},
{"data":{"name":"Etext"},"mark":{"type":"text","font":"Liberation Serif","fontSize":15,"color":"#111"},"encoding":{"text":{"field":"t"}}}]},
{"width":468,"height":468,"title":"Contours plot for the density at (a, b)=(0.01, 3)","encoding":{"x":{"field":"x","type":"quantitative","axis":{"values":[0,0.2,0.4,0.6,0.8,1]},"scale":{"domain":[0,1],"nice":false,"zero":false}},"y":{"field":"y","type":"quantitative","axis":{"values":[0,0.2,0.4,0.6,0.8,1]},"scale":{"domain":[0,1],"nice":false,"zero":false}}},"layer":[
{"data":{"name":"F"},"mark":{"type":"line","strokeWidth":0,"clip":true},"encoding":{"fill":{"field":"lv","type":"nominal","legend":null,"scale":{"domain":["b","m","t","q","r","g","l","k","y","w"],"range":["#1c2777","#175c8a","#1d7d8b","#2e9e8b","#4fba7e","#78cc71","#9fd968","#c6df60","#eee45f","#ffffff"]}},"detail":{"field":"id"},"order":{"value":null}}},
{"data":{"name":"mesh"},"mark":{"type":"rule","color":"white","opacity":0.25,"strokeWidth":0.8,"clip":true},"encoding":{"x2":{"field":"x2"},"y2":{"field":"y2"}}},
{"data":{"name":"F"},"transform":[{"filter":"datum.edge !== 1"}],"mark":{"type":"line","stroke":"#eeeeee","strokeWidth":1.2,"interpolate":"catmull-rom","clip":true},"encoding":{"detail":{"field":"id"},"order":{"value":null}}},
{"data":{"name":"Ftext"},"mark":{"type":"text","font":"Liberation Serif","fontSize":15,"color":"#111"},"encoding":{"text":{"field":"t"}}}]}
]}
